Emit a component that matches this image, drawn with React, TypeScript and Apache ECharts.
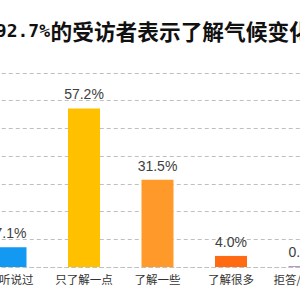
import React, { useEffect, useRef } from "react";
import * as echarts from "echarts";

const categories = ["没听说过", "只了解一点", "了解一些", "了解很多", "拒答/不知道"];
const values = [7.1, 57.2, 31.5, 4.0, 0.2];
const barColors = ["#1399F2", "#FFC000", "#FF9A2A", "#FF6A13", "#7030A0"];
const titleNumber = "92.7%";
const titleText = "的受访者表示了解气候变化";

const OFFSET = 100;

export default function App() {
  const ref = useRef<HTMLDivElement>(null);
  useEffect(() => {
    if (!ref.current) return;
    const chart = echarts.init(ref.current, null, { renderer: "svg" });
    chart.setOption({
      animation: false,
      backgroundColor: "#ffffff",
      graphic: [
        {
          type: "text",
          x: OFFSET + 50,
          y: 30.5,
          style: {
            text: titleNumber,
            fontFamily: "DejaVu Sans Mono",
            fontWeight: "bold",
            fontSize: 18,
            fill: "#111111",
            textAlign: "right",
            textVerticalAlign: "middle",
          },
        },
        {
          type: "text",
          x: OFFSET + 50.5,
          y: 30,
          style: {
            text: titleText,
            fontFamily: "Noto Sans CJK SC",
            fontWeight: "bold",
            fontSize: 21.7,
            fill: "#111111",
            textAlign: "left",
            textVerticalAlign: "middle",
          },
        },
      ],
      grid: {
        left: OFFSET - 26.25,
        width: 367.5,
        top: 73,
        height: 194,
        containLabel: false,
      },
      xAxis: {
        type: "category",
        data: categories,
        axisLine: {
          show: true,
          lineStyle: { color: "#BFBFBF", type: [4, 3], width: 1 },
        },
        axisTick: { show: false },
        axisLabel: {
          color: "#333333",
          fontSize: 11.5,
          fontFamily: "Noto Sans CJK SC",
          margin: 6,
          interval: 0,
        },
      },
      yAxis: {
        type: "value",
        min: 0,
        max: 70,
        interval: 10,
        axisLine: { show: false },
        axisTick: { show: false },
        axisLabel: { show: false },
        splitLine: {
          show: true,
          lineStyle: { color: "#BFBFBF", type: [4, 3], width: 1 },
        },
      },
      series: [
        {
          type: "bar",
          barWidth: 32,
          data: values.map((v, i) => ({ value: v, itemStyle: { color: barColors[i] } })),
          label: {
            show: true,
            position: "top",
            distance: 7,
            formatter: (p: any) => p.value.toFixed(1) + "%",
            fontFamily: "Liberation Sans",
            fontSize: 14,
            color: "#404040",
          },
        },
      ],
    });
    return () => chart.dispose();
  }, []);
  return (
    <div
      style={{
        position: "fixed",
        left: 0,
        top: 0,
        width: 300,
        height: 300,
        overflow: "hidden",
        background: "#fff",
      }}
    >
      <div
        ref={ref}
        style={{ position: "absolute", left: -OFFSET, top: 0, width: 500, height: 300 }}
      />
    </div>
  );
}
